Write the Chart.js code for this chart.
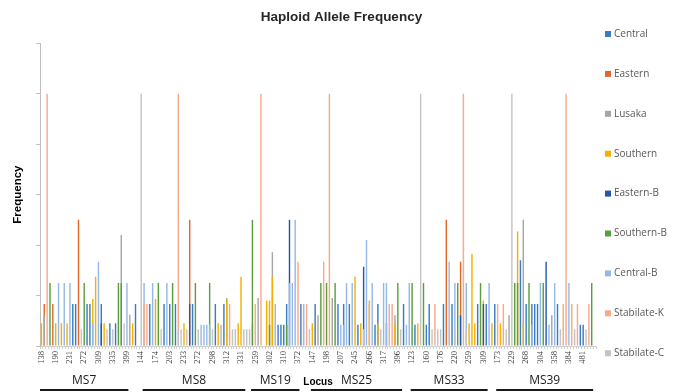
<!DOCTYPE html>
<html lang="en">
<head>
<meta charset="UTF-8">
<title>Haploid Allele Frequency</title>
<script src="https://cdn.jsdelivr.net/npm/chart.js"></script>
<style>
    body {
        margin: 0;
        background: #fff;
    }
    .wrap {
        width: 683px;
        height: 392px;
    }
</style>
</head>
<body>
<div class="wrap"><canvas id="alleleChart" width="683" height="392"></canvas></div>
<script>
// alleles labelled on the axis (every fifth bin carries a label)
const tickLabels = ['138', '190', '231', '272', '309', '335', '399',
    '144', '174', '203', '233', '272', '298', '312', '331',
    '259', '302', '310', '372',
    '147', '198', '207', '245', '266', '317', '396',
    '123', '160', '176', '220', '259', '309',
    '173', '229', '268', '304', '358', '384', '481'];
const binsPerLabel = 5;

// loci under the axis: first and last bin of each
const loci = ['MS7', 'MS8', 'MS19', 'MS25', 'MS33', 'MS39'];
const locusStart = [0, 36, 74, 95, 130, 160];
const locusEnd = [30, 71, 90, 126, 156, 193];

const populations = ['Central', 'Eastern', 'Lusaka', 'Southern', 'Eastern-B',
    'Southern-B', 'Central-B', 'Stabilate-K', 'Stabilate-C'];
const colours = ['#3a7cc4', '#e0692a', '#a5a5a5', '#f5b000', '#2159ad',
    '#5a9e3e', '#94b9e6', '#f7a98a', '#c3c3c3'];

// [bin, frequency]; empty bins are left out
const central = [[11, .083], [12, .083], [16, .083], [17, .083], [21, .083], [24, .045], [26, .045],
    [33, .083], [38, .083], [43, .083], [45, .083], [47, .083], [53, .083], [61, .083], [64, .083],
    [83, .042], [84, .042], [85, .042], [86, .083], [91, .083], [96, .083], [104, .083], [106, .083],
    [108, .083], [111, .042], [117, .042], [118, .083], [127, .083], [131, .042], [135, .042],
    [136, .083], [141, .083], [144, .083], [153, .083], [156, .083], [159, .083], [168, .17],
    [170, .083], [172, .083], [173, .083], [174, .083], [181, .083], [189, .042], [190, .042]];
const eastern = [[1, .083], [4, .083], [13, .25], [52, .25], [142, .25], [147, .167]];
const lusaka = [[1, .06], [28, .22], [31, .062], [65, .095], [76, .095], [81, .186], [97, .061],
    [102, .095], [124, .061], [164, .061], [169, .25], [179, .061]];
const southern = [[0, .045], [5, .045], [7, .045], [9, .045], [18, .093], [19, .137], [22, .045],
    [32, .045], [40, .093], [50, .045], [62, .045], [65, .09], [69, .045], [70, .137], [74, .045],
    [79, .09], [80, .09], [81, .137], [95, .045], [110, .137], [112, .045], [115, .09], [118, .045],
    [124, .045], [132, .045], [150, .045], [151, .183], [152, .045], [155, .09], [158, .045],
    [161, .045], [167, .227], [169, .045]];
const easternB = [[21, .045], [52, .083], [87, .25], [113, .157], [147, .061], [155, .083], [177, .167]];
const southernB = [[3, .125], [15, .125], [27, .125], [28, .125], [41, .125], [46, .125], [54, .125],
    [59, .125], [74, .25], [80, .042], [86, .042], [98, .125], [100, .125], [103, .125], [121, .045],
    [125, .125], [130, .125], [134, .125], [146, .125], [154, .125], [166, .125], [167, .125],
    [171, .125], [176, .125], [193, .125]];
const centralB = [[6, .125], [8, .125], [10, .125], [18, .045], [20, .167], [30, .125], [36, .125],
    [39, .125], [44, .125], [56, .042], [57, .042], [58, .042], [59, .042], [63, .042], [82, .083],
    [87, .125], [88, .125], [89, .25], [92, .083], [105, .042], [106, .042], [107, .125], [109, .125],
    [114, .21], [116, .125], [120, .125], [121, .125], [128, .042], [129, .125], [143, .167],
    [145, .125], [149, .125], [157, .125], [172, .042], [175, .125], [178, .042], [180, .125],
    [185, .125]];
const stabilateK = [[2, .5], [36, .083], [37, .083], [48, .5], [66, .083], [75, .083], [77, .5],
    [90, .167], [93, .083], [99, .167], [101, .5], [115, .083], [122, .083], [123, .083], [138, .083],
    [148, .5], [160, .083], [162, .083], [183, .083], [184, .5], [186, .083], [188, .083], [192, .083]];
const stabilateC = [[14, .033], [23, .033], [25, .033], [29, .045], [35, .5], [42, .033], [48, .033],
    [49, .033], [51, .033], [55, .033], [60, .033], [67, .033], [68, .033], [71, .033], [72, .033],
    [73, .033], [94, .033], [113, .033], [119, .033], [126, .033], [133, .5], [137, .033], [139, .033],
    [140, .033], [145, .033], [149, .033], [163, .033], [165, .5], [182, .033], [187, .033], [191, .033]];

const seriesValues = [central, eastern, lusaka, southern, easternB, southernB, centralB, stabilateK, stabilateC];

// one category per bin, only the first of each group of five gets its name
const alleles = [];
tickLabels.forEach(t => {
    alleles.push(t);
    for (let k = 1; k < binsPerLabel; k++) alleles.push('');
});

const toBins = (pairs) => {
    const arr = alleles.map(() => null);
    pairs.forEach(([i, v]) => { arr[i] = v; });
    return arr;
};

// legend down the right side, spaced like the original
const sideLegend = {
    id: 'sideLegend',
    afterDraw(chart) {
        const ctx = chart.ctx;
        const left = chart.chartArea.right + 9;
        ctx.save();
        ctx.font = '10px "Open Sans"';
        ctx.textBaseline = 'middle';
        chart.data.datasets.forEach((ds, i) => {
            const y = 34 + i * 39.9;
            ctx.fillStyle = ds.backgroundColor;
            ctx.fillRect(left, y - 3, 6, 6);
            ctx.fillStyle = '#595959';
            ctx.fillText(ds.label, left + 9, y);
        });
        ctx.restore();
    }
};

// locus names with a bar under them
const locusBars = {
    id: 'locusBars',
    afterDraw(chart) {
        const ctx = chart.ctx;
        const x = chart.scales.x;
        const half = (x.getPixelForValue(1) - x.getPixelForValue(0)) / 2;
        ctx.save();
        ctx.font = '12px "Open Sans"';
        ctx.textAlign = 'center';
        ctx.textBaseline = 'middle';
        ctx.fillStyle = '#1a1a1a';
        loci.forEach((name, k) => {
            const x1 = x.getPixelForValue(locusStart[k]) - half;
            const x2 = x.getPixelForValue(locusEnd[k]) + half;
            ctx.fillRect(x1, 389, x2 - x1, 2);
            ctx.fillText(name, (x1 + x2) / 2, 381);
        });
        ctx.restore();
    }
};

const ctx = document.getElementById('alleleChart').getContext('2d');
new Chart(ctx, {
    type: 'bar',
    data: {
        labels: alleles,
        datasets: populations.map((name, k) => ({
            label: name,
            data: toBins(seriesValues[k]),
            backgroundColor: colours[k],
            order: populations.length - k
        }))
    },
    options: {
        responsive: false,
        animation: false,
        devicePixelRatio: 1,
        layout: { padding: 0 },
        datasets: {
            bar: { grouped: false, barPercentage: 0.5, categoryPercentage: 1 }
        },
        plugins: {
            legend: { display: false },
            title: {
                display: true,
                text: 'Haploid Allele Frequency',
                color: '#262626',
                font: { family: 'Liberation Sans', size: 13.5, weight: 'bold' },
                padding: { top: 9, bottom: 18 }
            }
        },
        scales: {
            x: {
                grid: { offset: true, drawOnChartArea: false, drawTicks: true, tickLength: 3, color: '#d0d0d0' },
                border: { color: '#d0d0d0' },
                ticks: {
                    autoSkip: false,
                    minRotation: 90,
                    maxRotation: 90,
                    padding: 2,
                    color: '#404040',
                    font: { family: 'Liberation Serif', size: 8.5 },
                    callback: (value, index) => alleles[index]
                },
                title: {
                    display: true,
                    text: 'Locus',
                    color: '#000',
                    font: { family: 'Liberation Sans', size: 10, weight: 'bold' },
                    padding: { top: 0, bottom: 4 }
                },
                afterFit: (scale) => { scale.height = 46; }
            },
            y: {
                min: 0,
                max: 0.6,
                ticks: { display: false, stepSize: 0.1 },
                grid: { drawOnChartArea: false, drawTicks: true, tickLength: 4, color: '#bfbfbf' },
                border: { color: '#bfbfbf' },
                title: {
                    display: true,
                    text: 'Frequency',
                    color: '#000',
                    font: { family: 'Liberation Sans', size: 11.5, weight: 'bold' },
                    padding: { top: 11, bottom: 0 }
                },
                afterFit: (scale) => { scale.width = 40; }
            },
            // empty strip on the right that holds the legend, so the title stays centred on the page
            legendSpace: {
                type: 'linear',
                position: 'right',
                ticks: { display: false },
                grid: { display: false },
                border: { display: false },
                afterFit: (scale) => { scale.width = 87; }
            }
        }
    },
    plugins: [sideLegend, locusBars]
});
</script>
</body>
</html>
